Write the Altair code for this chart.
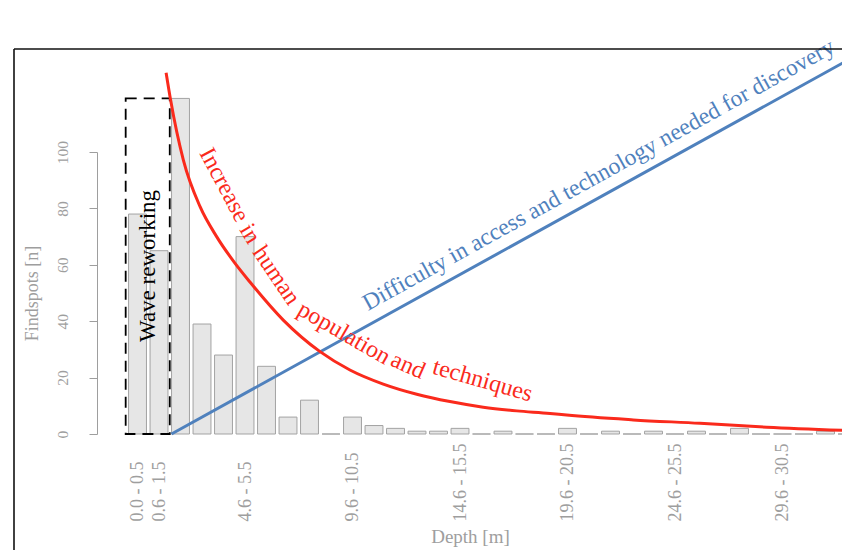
import json
import altair as alt
import pandas as pd

# ---------------- data ----------------
depth_bins = [
    "0.0 - 0.5", "0.6 - 1.5", "1.6 - 2.5", "2.6 - 3.5", "3.6 - 4.5", "4.6 - 5.5",
    "5.6 - 6.5", "6.6 - 7.5", "7.6 - 8.5", "8.6 - 9.5", "9.6 - 10.5", "10.6 - 11.5",
    "11.6 - 12.5", "12.6 - 13.5", "13.6 - 14.5", "14.6 - 15.5", "15.6 - 16.5",
    "16.6 - 17.5", "17.6 - 18.5", "18.6 - 19.5", "19.6 - 20.5", "20.6 - 21.5",
    "21.6 - 22.5", "22.6 - 23.5", "23.6 - 24.5", "24.6 - 25.5", "25.6 - 26.5",
    "26.6 - 27.5", "27.6 - 28.5", "28.6 - 29.5", "29.6 - 30.5", "30.6 - 31.5",
    "31.6 - 32.5", "32.6 - 33.5",
]
findspots = [78, 65, 119, 39, 28, 70, 24, 6, 12, 0, 6, 3, 2, 1, 1, 2, 0,
             1, 0, 0, 2, 0, 1, 0, 1, 0, 1, 0, 2, 0, 0, 0, 1, 0]
shown_ticks = [1, 2, 6, 11, 16, 21, 26, 31]

# red curve (bar-index units, findspots units)
red_x = [2.33, 2.54, 3.13, 3.91, 4.68, 5.53, 6.23, 7.78, 9.49, 10.88, 12.43,
         13.99, 15.53, 17.08, 18.64, 20.19, 20.96, 24.06, 27.16, 30.27, 34.14]
red_y = [128.1, 118.4, 97.2, 80.6, 70.0, 60.6, 53.9, 40.4, 29.2, 22.7, 17.7,
         14.1, 11.5, 9.5, 8.2, 7.3, 6.7, 5.0, 3.8, 2.4, 1.2]

# blue line
blue_x = [2.58, 34.14]
blue_y = [0, 133]

# red label, word by word along the curve
red_words = ["Increase", "in", "human", "population", "and", "techniques"]
red_wx = [5.02, 6.22, 7.45, 10.60, 13.58, 17.05]
red_wy = [88.3, 71.0, 56.2, 35.7, 24.2, 18.9]
red_wangle = [62, 59, 56, 30, 24, 16]

blue_text = "Difficulty in access and technology needed for discovery"
blue_tx, blue_ty, blue_angle = 22.61, 89.65, 331

wave_text = "Wave reworking"
wave_tx, wave_ty = 1.49, 59.6
wave_box = {"x1": 0.45, "x2": 2.5, "y1": 0, "y2": 119}

RED = "#fa2a1c"
BLUE = "#4f81bd"
GREY = "#9e9e9e"
FONT = "Liberation Serif"

# ---------------- scales / axes ----------------
xscale = alt.Scale(domain=[-0.884, 33.767], nice=False, zero=False, padding=0)
yscale = alt.Scale(domain=[0, 100], nice=False, zero=True, padding=0)

xaxis = alt.Axis(
    values=shown_ticks,
    labelExpr=json.dumps(depth_bins) + "[datum.value - 1]",
    labelAngle=270, labelAlign="left", labelBaseline="middle",
    labelPadding=87, ticks=False, tickSize=0, domain=False, grid=False,
    labelColor=GREY, labelFont=FONT, labelFontSize=18,
    labelOverlap=False, labelFlush=False, labelBound=False,
    title="Depth [m]", titleFont=FONT, titleFontSize=19, titleColor=GREY,
    titleFontWeight="normal", titleX=373, titleY=93, titleBaseline="top",
    titleAlign="center",
)
yaxis = alt.Axis(
    values=[0, 20, 40, 60, 80, 100],
    labelAngle=270, labelAlign="center", labelBaseline="alphabetic",
    labelPadding=22, tickSize=8, tickColor=GREY, domainColor=GREY,
    tickWidth=1, domainWidth=1, grid=False,
    labelColor=GREY, labelFont=FONT, labelFontSize=15.5,
    labelOverlap=False, labelFlush=False,
    title="Findspots [n]", titleFont=FONT, titleFontSize=18, titleColor=GREY,
    titleFontWeight="normal", titleAngle=270, titleX=-65, titleY=141,
    titleBaseline="middle", titleAlign="center",
)

bars_df = pd.DataFrame({"i": list(range(1, len(findspots) + 1)),
                        "bin": depth_bins, "n": findspots})

bars = alt.Chart(bars_df).transform_calculate(
    x1="datum.i - 0.4167", x2="datum.i + 0.4167"
).mark_bar(fill="#e6e6e6", stroke="#a3a3a3", strokeWidth=1, clip=False).encode(
    x=alt.X("x1:Q", scale=xscale, axis=xaxis),
    x2="x2:Q",
    y=alt.Y("n:Q", scale=yscale, axis=yaxis),
    y2=alt.datum(0),
)

box = alt.Chart(pd.DataFrame([wave_box])).mark_rect(
    fillOpacity=0, stroke="black", strokeWidth=1.8, strokeDash=[11, 7]
).encode(
    x=alt.X("x1:Q", scale=xscale, axis=xaxis),
    x2="x2:Q",
    y=alt.Y("y1:Q", scale=yscale, axis=yaxis),
    y2="y2:Q",
)

blue_line = alt.Chart(pd.DataFrame({"x": blue_x, "y": blue_y})).mark_line(
    color=BLUE, strokeWidth=3
).encode(
    x=alt.X("x:Q", scale=xscale, axis=xaxis),
    y=alt.Y("y:Q", scale=yscale, axis=yaxis),
)

red_line = alt.Chart(pd.DataFrame({"x": red_x, "y": red_y})).mark_line(
    color=RED, strokeWidth=3, interpolate="monotone"
).encode(
    x=alt.X("x:Q", scale=xscale, axis=xaxis),
    y=alt.Y("y:Q", scale=yscale, axis=yaxis),
)

red_lbl = alt.Chart(pd.DataFrame({"w": red_words, "x": red_wx, "y": red_wy,
                                  "a": red_wangle})).mark_text(
    color=RED, font=FONT, fontSize=24, align="center", baseline="middle"
).encode(
    x=alt.X("x:Q", scale=xscale, axis=xaxis),
    y=alt.Y("y:Q", scale=yscale, axis=yaxis),
    text="w:N",
    angle=alt.Angle("a:Q", scale=None),
)

blue_lbl = alt.Chart(pd.DataFrame({"t": [blue_text], "x": [blue_tx],
                                   "y": [blue_ty]})).mark_text(
    color=BLUE, font=FONT, fontSize=23.5, align="center", baseline="alphabetic",
    angle=blue_angle
).encode(
    x=alt.X("x:Q", scale=xscale, axis=xaxis),
    y=alt.Y("y:Q", scale=yscale, axis=yaxis),
    text="t:N",
)

wave_lbl = alt.Chart(pd.DataFrame({"t": [wave_text], "x": [wave_tx],
                                   "y": [wave_ty]})).mark_text(
    color="black", font=FONT, fontSize=23, align="center", baseline="middle",
    angle=270
).encode(
    x=alt.X("x:Q", scale=xscale, axis=xaxis),
    y=alt.Y("y:Q", scale=yscale, axis=yaxis),
    text="t:N",
)

# figure frame (top and left edges; the rest lies outside the crop)
frame_df = pd.DataFrame({"k": [0]})
frame_top = alt.Chart(frame_df).mark_rule(color="#111", strokeWidth=1.6).encode(
    x=alt.value(-83), x2=alt.value(1000), y=alt.value(-103)
)
frame_left = alt.Chart(frame_df).mark_rule(color="#111", strokeWidth=1.6).encode(
    x=alt.value(-83), y=alt.value(-103), y2=alt.value(700)
)

chart = alt.layer(
    bars, box, blue_line, red_line, red_lbl, blue_lbl, wave_lbl,
    frame_top, frame_left
).properties(
    width=745, height=282,
    autosize=alt.AutoSizeParams(type="none"),
    padding={"left": 89, "top": 144, "right": 0, "bottom": 116},
    background="white",
).configure_view(stroke=None)

chart.save("out.html", embed_options={"renderer": "svg", "actions": False})
